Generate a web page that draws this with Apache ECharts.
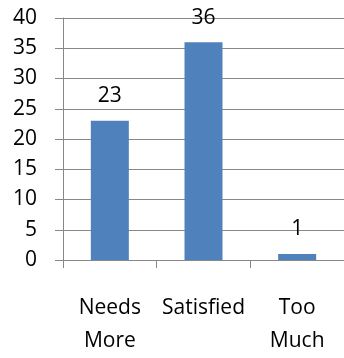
<!DOCTYPE html>
<html>
<head>
<meta charset="utf-8">
<script src="https://cdn.jsdelivr.net/npm/echarts@6/dist/echarts.min.js"></script>
<style>html,body{margin:0;padding:0;background:#fff;}#c{width:344px;height:358px;}</style>
</head>
<body>
<div id="c"></div>
<script>
const categories = ['Needs\nMore', 'Satisfied', 'Too\nMuch'];
const values = [23, 36, 1];
const yTicks = { min: 0, max: 40, interval: 5 };

const FONT = '"Open Sans", sans-serif';
const chart = echarts.init(document.getElementById('c'), null, { renderer: 'canvas' });
chart.setOption({
  animation: false,
  backgroundColor: '#ffffff',
  grid: { left: 63, top: 18, bottom: 89, right: -8, containLabel: false },
  xAxis: {
    type: 'category',
    data: categories,
    axisLine: { lineStyle: { color: '#888888', width: 1 } },
    axisTick: { show: true, length: 8, inside: false, lineStyle: { color: '#888888' } },
    axisLabel: { color: '#000', fontFamily: FONT, fontSize: 21, lineHeight: 33, margin: 32, interval: 0 },
    splitLine: { show: false }
  },
  yAxis: {
    type: 'value',
    min: yTicks.min, max: yTicks.max, interval: yTicks.interval,
    axisLine: { show: true, lineStyle: { color: '#888888', width: 1 } },
    axisTick: { show: true, length: 8, lineStyle: { color: '#888888' } },
    axisLabel: { color: '#000', fontFamily: FONT, fontSize: 21, margin: 26, padding: [4, 0, 0, 0] },
    splitLine: { show: true, lineStyle: { color: '#888888', width: 1 } }
  },
  series: [{
    type: 'bar',
    data: values,
    barWidth: 38,
    itemStyle: { color: '#4F81BD' },
    label: { show: true, position: 'top', distance: 14, color: '#000', fontFamily: FONT, fontSize: 21 }
  }]
});
</script>
</body>
</html>
